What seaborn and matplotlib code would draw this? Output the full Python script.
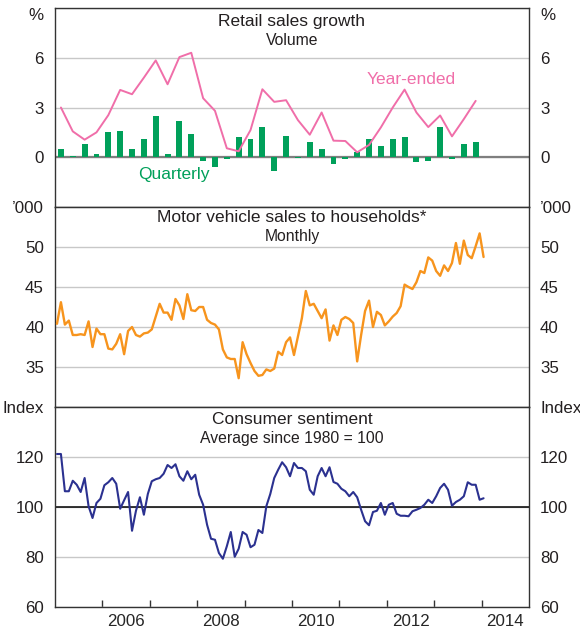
import matplotlib
matplotlib.use('Agg')
import numpy as np
import pandas as pd
import matplotlib.pyplot as plt
import seaborn as sns

# Retail sales growth, volume, per cent (2005Q1 - 2013Q4)
retail_quarterly = [0.5, 0.1, 0.8, 0.2, 1.5, 1.6, 0.5, 1.1, 2.5, 0.2, 2.2, 1.4,
                    -0.2, -0.6, -0.1, 1.2, 1.1, 1.8, -0.8, 1.3, -0.05, 0.9, 0.5, -0.4,
                    -0.1, 0.3, 1.1, 0.7, 1.1, 1.2, -0.3, -0.2, 1.8, -0.1, 0.8, 0.9]
retail_year_ended = [3.0, 1.56, 1.06, 1.5, 2.54, 4.06, 3.8, 4.8, 5.84, 4.4, 6.04, 6.3,
                     3.56, 2.8, 0.54, 0.36, 1.64, 4.1, 3.34, 3.44, 2.24, 1.36, 2.7, 1.0,
                     0.98, 0.3, 0.74, 1.8, 3.0, 4.08, 2.7, 1.82, 2.52, 1.26, 2.3, 3.4]

# Motor vehicle sales to households, '000, monthly (Jan 2005 - Jan 2014)
motor_vehicles = [40.4, 43.1, 40.3, 40.8, 39.0, 39.0, 39.1, 39.0, 40.7, 37.5, 39.8, 39.1,
                  39.1, 37.3, 37.2, 37.9, 39.1, 36.6, 39.5, 40.0, 39.0, 38.8, 39.2, 39.3,
                  39.7, 41.3, 42.9, 41.8, 41.8, 40.9, 43.5, 42.7, 41.0, 44.1, 42.1, 42.0,
                  42.5, 42.5, 40.9, 40.5, 40.3, 39.7, 37.2, 36.2, 36.0, 36.0, 33.6, 38.1,
                  36.6, 35.5, 34.5, 33.9, 34.0, 34.7, 34.5, 34.8, 36.9, 36.5, 38.1, 38.7,
                  36.5, 38.8, 41.1, 44.5, 42.7, 42.9, 42.0, 41.1, 42.2, 38.3, 40.2, 39.0,
                  40.9, 41.25, 41.0, 40.5, 35.7, 39.0, 42.0, 43.3, 40.0, 41.9, 41.5, 40.2,
                  40.7, 41.3, 41.75, 42.6, 45.3, 45.0, 44.75, 45.6, 47.0, 46.75, 48.7, 48.3,
                  47.0, 46.4, 47.7, 47.0, 48.0, 50.5, 47.9, 50.8, 49.0, 48.6, 50.1, 51.7,
                  48.75]

# Consumer sentiment index, average since 1980 = 100, monthly
sentiment = [121.2, 121.2, 106.3, 106.3, 110.5, 108.9, 106.0, 111.6, 100.3, 95.6, 101.6, 103.3,
             108.7, 109.9, 111.6, 109.3, 99.3, 102.7, 106.0, 90.5, 98.5, 103.9, 96.9, 105.2,
             110.3, 111.1, 111.6, 113.3, 116.8, 115.6, 117.1, 112.3, 110.5, 114.3, 111.1, 112.9,
             104.9, 100.9, 92.9, 87.3, 86.9, 81.6, 79.3, 84.3, 90.0, 80.1, 83.3, 90.0,
             88.9, 83.9, 84.9, 90.8, 89.6, 100.3, 105.2, 111.6, 114.9, 117.9, 115.9, 112.3,
             117.6, 115.6, 115.6, 114.3, 106.9, 104.9, 112.3, 115.6, 112.3, 115.9, 110.0, 109.3,
             107.3, 106.3, 104.3, 106.0, 103.9, 98.9, 94.3, 92.7, 98.0, 98.5, 101.6, 96.9,
             100.9, 101.6, 97.3, 96.5, 96.5, 96.3, 98.3, 98.9, 99.6, 100.9, 102.9, 101.6,
             104.3, 107.6, 109.3, 106.9, 100.5, 102.0, 102.9, 104.3, 109.9, 108.9, 108.9, 102.9,
             103.5]

year_labels = ['2006', '2008', '2010', '2012', '2014']

# decimal-year positions (mid quarter / mid month)
quarters = pd.period_range('2005Q1', periods=len(retail_quarterly), freq='Q')
q_x = np.asarray(quarters.year + (quarters.quarter - 0.5) / 4, dtype=float)
months = pd.period_range('2005-01', periods=len(motor_vehicles), freq='M')
m_x = np.asarray(months.year + (months.month - 0.5) / 12, dtype=float)

sns.set_style('white')
plt.rcParams['font.family'] = ['Liberation Sans', 'DejaVu Sans']
plt.rcParams['text.color'] = '#231f20'

GREEN = '#00a05a'
PINK = '#f06ea9'
ORANGE = '#f7941d'
BLUE = '#2b3190'
GRID = '#c8c8c8'
FRAME = '#333333'
TICK_FS = 12.2

fig = plt.figure(figsize=(5.8, 6.32), dpi=100)
left, width = 55 / 580, 474 / 580
ax1 = fig.add_axes([left, 1 - 207 / 632, width, 199 / 632])
ax2 = fig.add_axes([left, 1 - 407 / 632, width, 200 / 632])
ax3 = fig.add_axes([left, 1 - 607 / 632, width, 200 / 632])


def style_panel(ax, ticks, labels, ylim):
    ax.set_xlim(2005, 2015)
    ax.set_ylim(*ylim)
    ax.set_yticks(ticks)
    ax.set_yticklabels(labels)
    ax.yaxis.grid(True, color=GRID, lw=1.0, zorder=0)
    ax.xaxis.grid(False)
    ax.set_axisbelow(True)
    ax.tick_params(axis='y', left=False, right=False, labelleft=True, labelright=True,
                   labelsize=TICK_FS, pad=4.5, labelcolor='#231f20')
    for s in ax.spines.values():
        s.set_color(FRAME)
        s.set_linewidth(1.0)
    ax.set_xlabel('')
    ax.set_ylabel('')


# --- retail sales (no white bar edges, they would cut the zero line)
sns.barplot(x=q_x, y=retail_quarterly, native_scale=True, width=0.5, color=GREEN,
            saturation=1, errorbar=None, linewidth=0, ax=ax1, zorder=2)
sns.lineplot(x=q_x, y=retail_year_ended, color=PINK, lw=1.4, ax=ax1, zorder=3)
ax1.axhline(0, color='#7f7f7f', lw=1.6, zorder=1.5)
style_panel(ax1, [0, 3, 6, 9], ['0', '3', '6', '%'], (-3, 9))
ax1.tick_params(axis='x', bottom=False, labelbottom=False)
ax1.text(0.5, 0.93, 'Retail sales growth', transform=ax1.transAxes, ha='center', va='center', fontsize=12.5)
ax1.text(0.5, 0.835, 'Volume', transform=ax1.transAxes, ha='center', va='center', fontsize=11.3)
ax1.text(2007.51, -1.04, 'Quarterly', color=GREEN, ha='center', va='center', fontsize=12.5)
ax1.text(2012.52, 4.66, 'Year-ended', color=PINK, ha='center', va='center', fontsize=12.5)

# --- motor vehicles
sns.lineplot(x=m_x, y=motor_vehicles, color=ORANGE, lw=1.7, ax=ax2, zorder=3)
style_panel(ax2, [35, 40, 45, 50, 55], ['35', '40', '45', '50', '\u2019000'], (30, 55))
ax2.tick_params(axis='x', bottom=False, labelbottom=False)
ax2.text(0.5, 0.945, 'Motor vehicle sales to households*', transform=ax2.transAxes,
         ha='center', va='center', fontsize=12.5)
ax2.text(0.5, 0.855, 'Monthly', transform=ax2.transAxes, ha='center', va='center', fontsize=11.3)

# --- consumer sentiment
sns.lineplot(x=m_x, y=sentiment, color=BLUE, lw=1.5, ax=ax3, zorder=3)
ax3.axhline(100, color='black', lw=1.1, zorder=1.5)
style_panel(ax3, [60, 80, 100, 120, 140], ['60', '80', '100', '120', 'Index'], (60, 140))
ax3.text(0.5, 0.94, 'Consumer sentiment', transform=ax3.transAxes, ha='center', va='center', fontsize=12.5)
ax3.text(0.5, 0.84, 'Average since 1980 = 100', transform=ax3.transAxes,
         ha='center', va='center', fontsize=11.3)
ax3.set_xticks(np.arange(2006, 2015))
ax3.set_xticklabels([])
ax3.set_xticks([int(y) + 0.5 for y in year_labels], minor=True)
ax3.set_xticklabels(year_labels, minor=True)
ax3.tick_params(axis='x', which='major', direction='in', length=5, width=1.0, color=FRAME, bottom=True)
ax3.tick_params(axis='x', which='minor', length=0, labelsize=TICK_FS, pad=5, bottom=True)

# unit label in the top panel sits just under the frame
for lab in ax1.get_yticklabels():
    if lab.get_text() == '%':
        lab.set_verticalalignment('top')

fig.savefig('out.png', dpi=100)
